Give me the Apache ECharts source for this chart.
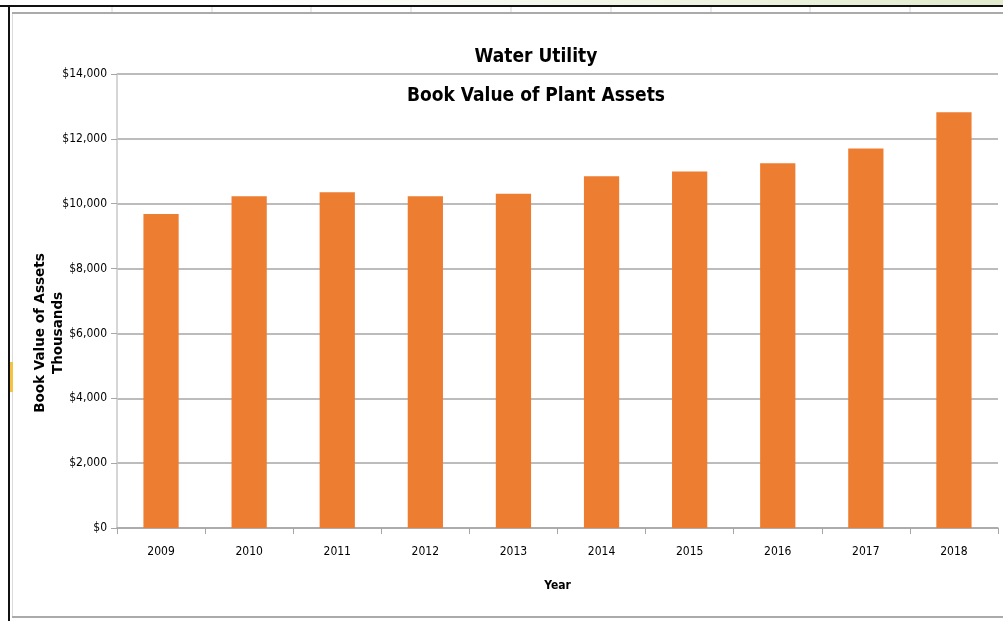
<!DOCTYPE html>
<html>
<head>
<meta charset="utf-8">
<title>Water Utility - Book Value of Plant Assets</title>
<script src="https://cdn.jsdelivr.net/npm/echarts@6/dist/echarts.min.js"></script>
<style>
  html, body { margin: 0; padding: 0; background: #fff; }
  #chart { width: 1003px; height: 621px; }
</style>
</head>
<body>
<div id="chart"></div>
<script>
const years = ['2009', '2010', '2011', '2012', '2013', '2014', '2015', '2016', '2017', '2018'];
// book value of plant assets, thousands of dollars
const bookValues = [9680, 10230, 10350, 10230, 10310, 10850, 10990, 11250, 11700, 12820];
const yTicks = { min: 0, max: 14000, interval: 2000 };

const narrow = '"DejaVu Sans Condensed", "Liberation Sans Narrow", sans-serif';
const fmtMoney = (v) => '$' + v.toLocaleString('en-US');

// spreadsheet frame around the chart object
const cellLines = [112, 212, 311, 411, 511, 611, 711, 810, 910].map((x) => ({
  type: 'line',
  shape: { x1: x, y1: 7, x2: x, y2: 12 },
  style: { stroke: '#d4d4d4', lineWidth: 1 },
  silent: true
}));

const chart = echarts.init(document.getElementById('chart'));

chart.setOption({
  animation: false,
  backgroundColor: '#ffffff',
  title: [
    {
      text: 'Water Utility',
      left: 531,
      top: 43,
      textAlign: 'center',
      textStyle: { fontFamily: narrow, fontWeight: 'bold', fontSize: 19, color: '#000' }
    },
    {
      text: 'Book Value of Plant Assets',
      left: 531,
      top: 82,
      textAlign: 'center',
      textStyle: { fontFamily: narrow, fontWeight: 'bold', fontSize: 19, color: '#000' }
    }
  ],
  grid: {
    left: 117,
    right: 5,
    top: 74,
    bottom: 93
  },
  xAxis: {
    type: 'category',
    data: years,
    name: 'Year',
    nameLocation: 'middle',
    nameGap: 52,
    nameTextStyle: { fontFamily: narrow, fontWeight: 'bold', fontSize: 12, color: '#000' },
    axisLine: { lineStyle: { color: '#a6a6a6', width: 1.5 } },
    axisTick: { show: true, length: 6, lineStyle: { color: '#a6a6a6' } },
    axisLabel: { fontFamily: narrow, fontSize: 12, color: '#000', margin: 18 }
  },
  yAxis: {
    type: 'value',
    min: yTicks.min,
    max: yTicks.max,
    interval: yTicks.interval,
    name: 'Book Value of Assets\nThousands',
    nameLocation: 'middle',
    nameRotate: 90,
    nameGap: 50,
    nameMoveOverlap: false,
    nameTextStyle: {
      fontFamily: '"DejaVu Sans", Verdana, sans-serif',
      fontWeight: 'bold',
      fontSize: 13.5,
      lineHeight: 18,
      color: '#000',
      align: 'center',
      padding: [0, 64, 0, 0]
    },
    axisLine: { show: true, lineStyle: { color: '#c8c8c8', width: 1.5 } },
    axisTick: { show: true, length: 6, lineStyle: { color: '#a6a6a6' } },
    axisLabel: { fontFamily: narrow, fontSize: 12, color: '#000', margin: 10, formatter: fmtMoney },
    splitLine: { lineStyle: { color: '#a6a6a6', width: 1.5 } }
  },
  series: [
    {
      type: 'bar',
      data: bookValues,
      barWidth: '40%',
      itemStyle: { color: '#ED7D31' }
    }
  ],
  graphic: [
    {
      type: 'rect',
      shape: { x: 250, y: 0, width: 753, height: 5 },
      style: {
        fill: new echarts.graphic.LinearGradient(0, 0, 1, 0, [
          { offset: 0, color: '#ffffff' },
          { offset: 1, color: '#e2ebcc' }
        ])
      },
      silent: true
    },
    {
      type: 'rect',
      shape: { x: 0, y: 5, width: 1003, height: 2 },
      style: { fill: '#111' },
      silent: true
    },
    {
      type: 'rect',
      shape: { x: 12, y: 12, width: 991, height: 2 },
      style: { fill: '#aaaaaa' },
      silent: true
    },
    {
      type: 'rect',
      shape: { x: 8, y: 5, width: 2, height: 616 },
      style: { fill: '#111' },
      silent: true
    },
    {
      type: 'rect',
      shape: { x: 12, y: 14, width: 1, height: 603 },
      style: { fill: '#dcdcdc' },
      silent: true
    },
    {
      type: 'rect',
      shape: { x: 10, y: 362, width: 3, height: 30 },
      style: { fill: '#f3c443' },
      silent: true
    },
    {
      type: 'rect',
      shape: { x: 12, y: 616, width: 991, height: 2 },
      style: { fill: '#aaaaaa' },
      silent: true
    }
  ].concat(cellLines)
});
</script>
</body>
</html>
